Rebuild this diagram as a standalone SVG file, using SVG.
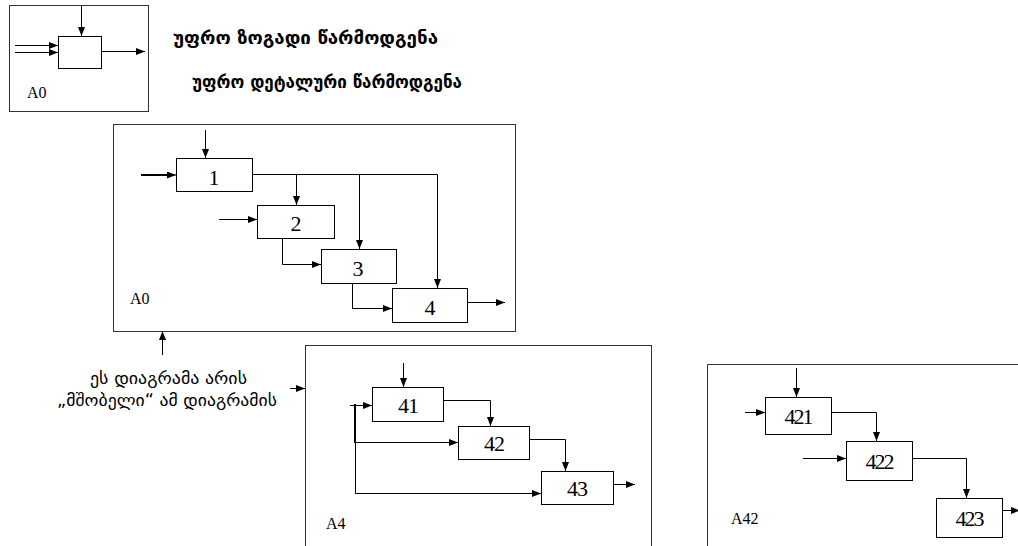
<svg xmlns="http://www.w3.org/2000/svg" width="1018" height="546" viewBox="0 0 1018 546">
  <defs>
    <marker id="arrow" markerUnits="userSpaceOnUse" markerWidth="9" markerHeight="7" refX="9" refY="3.5" orient="auto">
      <path d="M0,0 L9,3.5 L0,7 z" fill="#000"/>
    </marker>
    <style>
      .frame { fill: #fff; stroke: #333; stroke-width: 1; }
      .box { fill: #fff; stroke: #000; stroke-width: 1; }
      .wire { fill: none; stroke: #000; stroke-width: 1; marker-end: url(#arrow); }
      .thick { fill: none; stroke: #000; stroke-width: 2; }
      .num { font-family: "Liberation Serif", "Times New Roman", serif; font-size: 22px; text-anchor: middle; fill: #000; }
      .tag { font-family: "Liberation Serif", "Times New Roman", serif; font-size: 16px; fill: #000; }
      .geo { font-family: "DejaVu Sans", sans-serif; font-size: 17px; fill: #000; }
    </style>
  </defs>
  <rect width="1018" height="546" fill="#fff"/>

  <!-- frames -->
  <g id="frame-top-a0">
    <rect class="frame" x="9.5" y="5.5" width="139" height="106"/>
    <text class="tag" x="27" y="98">A0</text>
  </g>
  <g id="frame-a0">
    <rect class="frame" x="113.5" y="124.5" width="402" height="207"/>
    <text class="tag" x="130" y="304">A0</text>
  </g>
  <g id="frame-a4">
    <rect class="frame" x="305.5" y="345.5" width="346" height="201"/>
    <text class="tag" x="326" y="529">A4</text>
  </g>
  <g id="frame-a42">
    <path class="frame" d="M707.5,547 V364.5 H1019" />
    <text class="tag" x="731" y="524">A42</text>
  </g>

  <!-- captions -->
  <g id="captions">
    <text class="geo" x="173" y="44" font-weight="bold" textLength="265" lengthAdjust="spacingAndGlyphs">უფრო ზოგადი წარმოდგენა</text>
    <text class="geo" x="192" y="88" font-weight="bold" textLength="270" lengthAdjust="spacingAndGlyphs">უფრო დეტალური წარმოდგენა</text>
    <text class="geo" x="90" y="384" textLength="157" lengthAdjust="spacingAndGlyphs">ეს დიაგრამა არის</text>
    <text class="geo" x="57" y="406" textLength="220" lengthAdjust="spacingAndGlyphs">„მშობელი“ ამ დიაგრამის</text>
  </g>

  <!-- nodes -->
  <g id="node-a0">
    <rect class="box" x="58.5" y="36.5" width="43" height="32"/>
  </g>
  <g id="node-1">
    <rect class="box" x="176.5" y="158.5" width="76" height="33"/>
    <text class="num" x="214" y="185">1</text>
  </g>
  <g id="node-2">
    <rect class="box" x="257.5" y="205.5" width="77" height="33"/>
    <text class="num" x="296" y="231">2</text>
  </g>
  <g id="node-3">
    <rect class="box" x="321.5" y="249.5" width="75" height="34"/>
    <text class="num" x="358" y="276">3</text>
  </g>
  <g id="node-4">
    <rect class="box" x="392.5" y="288.5" width="75" height="34"/>
    <text class="num" x="430" y="315">4</text>
  </g>
  <g id="node-41">
    <rect class="box" x="372.5" y="387.5" width="71" height="34"/>
    <text class="num" x="408" y="413" letter-spacing="-1">41</text>
  </g>
  <g id="node-42">
    <rect class="box" x="458.5" y="426.5" width="71" height="33"/>
    <text class="num" x="494" y="451" letter-spacing="-1">42</text>
  </g>
  <g id="node-43">
    <rect class="box" x="541.5" y="471.5" width="72" height="33"/>
    <text class="num" x="577" y="496" letter-spacing="-1">43</text>
  </g>
  <g id="node-421">
    <rect class="box" x="765.5" y="397.5" width="66" height="37"/>
    <text class="num" x="798" y="424" letter-spacing="-2">421</text>
  </g>
  <g id="node-422">
    <rect class="box" x="846.5" y="441.5" width="66" height="39"/>
    <text class="num" x="879" y="469" letter-spacing="-2">422</text>
  </g>
  <g id="node-423">
    <rect class="box" x="936.5" y="498.5" width="66" height="39"/>
    <text class="num" x="969" y="526" letter-spacing="-2">423</text>
  </g>

  <!-- connectors -->
  <g id="connectors">
    <!-- top-level A0 -->
    <path class="wire" d="M81.5,6 V36"/>
    <path class="wire" d="M15,45.5 H58"/>
    <path class="wire" d="M15,52.5 H58"/>
    <path class="wire" d="M102,51.5 H145"/>

    <!-- A0 decomposition -->
    <path class="wire" d="M205.5,130 V158"/>
    <path class="thick" d="M141,175 H168"/>
    <path class="wire" d="M167,175 H176"/>
    <path class="wire" d="M252,174.5 H437.5 V288"/>
    <path class="wire" d="M296.5,174.5 V205"/>
    <path class="wire" d="M359.5,174.5 V249"/>
    <path class="wire" d="M219,219.5 H257"/>
    <path class="wire" d="M282.5,238 V264.5 H321"/>
    <path class="wire" d="M352.5,283 V308.5 H392"/>
    <path class="wire" d="M467,302.5 H505"/>

    <!-- parent pointers -->
    <path class="wire" d="M162.5,355 V331"/>
    <path class="wire" d="M290,388.5 H305"/>

    <!-- A4 decomposition -->
    <path class="wire" d="M403.5,363 V387"/>
    <path class="thick" d="M355,404 V443"/>
    <path class="wire" d="M350,405.5 H372"/>
    <path class="wire" d="M355,442.5 H458"/>
    <path class="wire" d="M355.5,442 V493.5 H541"/>
    <path class="wire" d="M443,400.5 H490.5 V426"/>
    <path class="wire" d="M529,439.5 H565.5 V471"/>
    <path class="wire" d="M613,484.5 H635"/>

    <!-- A42 decomposition -->
    <path class="wire" d="M796.5,368 V397"/>
    <path class="wire" d="M745,412.5 H765"/>
    <path class="wire" d="M831,412.5 H876.5 V441"/>
    <path class="wire" d="M803,458.5 H846"/>
    <path class="wire" d="M912,458.5 H966.5 V498"/>
    <path class="wire" d="M1002,510.5 H1020"/>
  </g>
</svg>
